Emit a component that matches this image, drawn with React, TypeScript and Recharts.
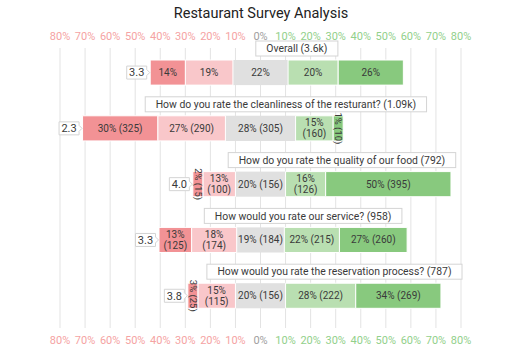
import React from 'react';
import { Bar, BarChart, CartesianGrid, LabelList, Rectangle, XAxis, YAxis } from 'recharts';

const questions = [
    'Overall (3.6k)',
    'How do you rate the cleanliness of the resturant? (1.09k)',
    'How do you rate the quality of our food (792)',
    'How would you rate our service? (958)',
    'How would you rate the reservation process? (787)',
];
const ratings = ['3.3', '2.3', '4.0', '3.3', '3.8'];

// percentages per answer group
const veryNeg = [14, 30, 2, 13, 3];
const someNeg = [19, 27, 13, 18, 15];
const neutral = [22, 28, 20, 19, 20];
const somePos = [20, 15, 16, 22, 28];
const veryPos = [26, 1, 50, 27, 34];

// response counts (overall row shows only percentages)
const veryNegN = [null, 325, 15, 125, 25];
const someNegN = [null, 290, 100, 174, 115];
const neutralN = [null, 305, 156, 184, 156];
const somePosN = [null, 160, 126, 215, 222];
const veryPosN = [null, 10, 395, 260, 269];

const ticks = [-80, -70, -60, -50, -40, -30, -20, -10, 0, 10, 20, 30, 40, 50, 60, 70, 80];

const data = questions.map((q, i) => ({
    q,
    zero: 0,
    neuL: -neutral[i] / 2,
    neuR: neutral[i] / 2,
    negS: -someNeg[i],
    posS: somePos[i],
    negV: -veryNeg[i],
    posV: veryPos[i],
}));

const FONT = 'Roboto, "Noto Sans", sans-serif';
const TEXT = '#3a3a3a';
const MIN_W = 10; // tiny outer segments are kept readable

let ctx: CanvasRenderingContext2D | null = null;
const measure = (text: string, size: number) => {
    if (!ctx) ctx = document.createElement('canvas').getContext('2d');
    if (!ctx) return text.length * size * 0.5;
    ctx.font = `${size}px Roboto`;
    return ctx.measureText(text).width;
};

const AxisTick = ({ x, y, payload, orientation }: any) => {
    const v = payload.value;
    const fill = v < 0 ? '#f5a3a3' : v > 0 ? '#92d08b' : '#a0a0a0';
    return (
        <text
            x={x}
            y={y}
            dy={orientation === 'top' ? 0 : '0.71em'}
            textAnchor="middle"
            fill={fill}
            fontSize={11}
            fontFamily={FONT}
        >
            {Math.abs(v)}%
        </text>
    );
};

// outer segments grow outward to a minimum width
const OuterShape = (side: number) => (props: any) => {
    const { x, y, width, height, fill, stroke } = props;
    let left = Math.min(x, x + width);
    let w = Math.abs(width);
    if (w < MIN_W) {
        if (side < 0) left = left + w - MIN_W;
        w = MIN_W;
    }
    return <Rectangle x={left} y={y} width={w} height={height} fill={fill} stroke={stroke} strokeWidth={1} />;
};

const segLabel = (pcts: number[], counts: (number | null)[], isNeutral = false, side = 0) => (props: any) => {
    const { x, y, width, height, index } = props;
    let left = Math.min(x, x + width);
    let w = Math.abs(width);
    if (isNeutral) {
        left = x - w;
        w = w * 2;
    }
    if (side !== 0 && w < MIN_W) {
        if (side < 0) left = left + w - MIN_W;
        w = MIN_W;
    }
    const p = pcts[index];
    const n = counts[index];
    const cx = left + w / 2;
    const cy = y + height / 2;
    const one = n == null ? `${p}%` : `${p}% (${n})`;
    if (w < 14) {
        return (
            <text x={cx} y={cy} transform={`rotate(90 ${cx} ${cy})`} textAnchor="middle" dy="0.35em"
                fontSize={9.5} fontFamily={FONT} fill={TEXT}>{one}</text>
        );
    }
    if (n == null || w >= 46) {
        return (
            <text x={cx} y={cy} textAnchor="middle" dy="0.35em" fontSize={10} fontFamily={FONT} fill={TEXT}>{one}</text>
        );
    }
    return (
        <text textAnchor="middle" fontSize={10} fontFamily={FONT} fill={TEXT}>
            <tspan x={cx} y={cy - 5.5} dy="0.35em">{p}%</tspan>
            <tspan x={cx} y={cy + 5.5} dy="0.35em">({n})</tspan>
        </text>
    );
};

// rating callout on the left and question box above each row
const RowDecor = (props: any) => {
    const { x, y, width, height, index } = props;
    const k = Math.abs(width) / (neutral[index] / 2);
    const barLeft = x - k * (neutral[index] / 2 + someNeg[index]) - Math.max(k * veryNeg[index], MIN_W);
    const barRight = x + k * (neutral[index] / 2 + somePos[index]) + Math.max(k * veryPos[index], MIN_W);
    const cy = y + height / 2;

    const r = barLeft - 3.5;
    const l = r - 20;
    const t = cy - 6.5;
    const b = cy + 6.5;
    const callout = `M${l},${t} H${r} V${cy - 3} L${r + 3},${cy} L${r},${cy + 3} V${b} H${l} Z`;

    const q = questions[index];
    const tw = measure(q, 10.4) + 21;
    const center = (barLeft + barRight) / 2 + 8 * k;
    const bx = Math.max(center - tw / 2, x - 46 * k);
    const bh = 15;
    const by = y - 4 - bh;

    return (
        <g>
            <path d={callout} fill="#fff" stroke="#d4d4d4" strokeWidth={1} />
            <text x={l + 10} y={cy} dy="0.35em" textAnchor="middle" fontSize={11} fontFamily={FONT} fill={TEXT}>
                {ratings[index]}
            </text>
            <rect x={bx} y={by} width={tw} height={bh} fill="#fff" stroke="#d4d4d4" strokeWidth={1} />
            <text x={bx + tw / 2} y={by + bh / 2} dy="0.35em" textAnchor="middle" fontSize={10.4} fontFamily={FONT} fill={TEXT}>
                {q}
            </text>
        </g>
    );
};

const App: React.FC = () => {
    return (
        <div style={{ width: 531, height: 354, position: 'relative', background: '#fff' }}>
            <style>{`body { margin: 0; }`}</style>
            <div
                style={{
                    position: 'absolute',
                    top: 5,
                    left: 0,
                    width: 522,
                    textAlign: 'center',
                    fontFamily: FONT,
                    fontSize: 14.5,
                    color: '#222',
                    pointerEvents: 'none',
                }}
            >
                Restaurant Survey Analysis
            </div>
            <BarChart
                width={531}
                height={354}
                data={data}
                layout="vertical"
                stackOffset="sign"
                barSize={33}
                margin={{ top: 28, right: 70, bottom: 6, left: 60 }}
            >
                <CartesianGrid horizontal={false} stroke="#e3e3e3" xAxisId="b" />
                <XAxis
                    xAxisId="t"
                    orientation="top"
                    type="number"
                    domain={[-80, 80]}
                    ticks={ticks}
                    height={20}
                    axisLine={false}
                    tickLine={false}
                    tick={<AxisTick orientation="top" />}
                    interval={0}
                />
                <XAxis
                    xAxisId="b"
                    orientation="bottom"
                    type="number"
                    domain={[-80, 80]}
                    ticks={ticks}
                    height={20}
                    axisLine={false}
                    tickLine={false}
                    tick={<AxisTick orientation="bottom" />}
                    interval={0}
                />
                <YAxis type="category" dataKey="q" hide padding={{ top: 9, bottom: -8 }} />
                <Bar xAxisId="t" dataKey="zero" fill="none" legendType="none" isAnimationActive={false} />
                <Bar xAxisId="b" dataKey="neuL" stackId="a" fill="#e0e0e0" isAnimationActive={false} />
                <Bar xAxisId="b" dataKey="neuR" stackId="a" fill="#e0e0e0" isAnimationActive={false}>
                    <LabelList content={segLabel(neutral, neutralN, true)} />
                    <LabelList content={RowDecor} />
                </Bar>
                <Bar xAxisId="b" dataKey="negS" stackId="a" fill="#f9c7ca" stroke="#fff" strokeWidth={1} isAnimationActive={false}>
                    <LabelList content={segLabel(someNeg, someNegN)} />
                </Bar>
                <Bar xAxisId="b" dataKey="posS" stackId="a" fill="#b9dfb1" stroke="#fff" strokeWidth={1} isAnimationActive={false}>
                    <LabelList content={segLabel(somePos, somePosN)} />
                </Bar>
                <Bar xAxisId="b" dataKey="negV" stackId="a" fill="#f29295" stroke="#fff" shape={OuterShape(-1)} isAnimationActive={false}>
                    <LabelList content={segLabel(veryNeg, veryNegN, false, -1)} />
                </Bar>
                <Bar xAxisId="b" dataKey="posV" stackId="a" fill="#88c97e" stroke="#fff" shape={OuterShape(1)} isAnimationActive={false}>
                    <LabelList content={segLabel(veryPos, veryPosN, false, 1)} />
                </Bar>
            </BarChart>
        </div>
    );
};

export default App;
